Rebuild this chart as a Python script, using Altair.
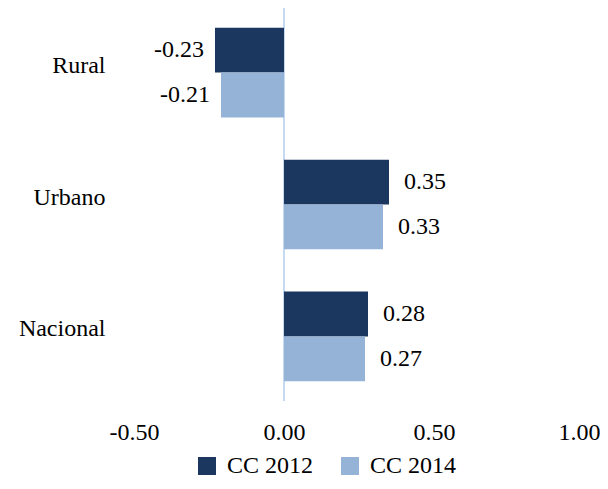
import altair as alt
import pandas as pd

categories = ["Rural", "Urbano", "Nacional"]
series = ["CC 2012", "CC 2014"]
cc2012 = [-0.23, 0.35, 0.28]
cc2014 = [-0.21, 0.33, 0.27]
x_ticks = [-0.5, 0.0, 0.5, 1.0]
colors = ["#1B375F", "#95B3D7"]

FONT = "'Liberation Serif', 'DejaVu Serif', serif"
FS = 24

rows = []
for c, a, b in zip(categories, cc2012, cc2014):
    rows.append({"cat": c, "serie": series[0], "val": a, "lbl": f"{a:.2f}"})
    rows.append({"cat": c, "serie": series[1], "val": b, "lbl": f"{b:.2f}"})
df = pd.DataFrame(rows)

xscale = alt.Scale(domain=[-0.5, 1.0], nice=False, zero=False)

base = alt.Chart(df).encode(
    y=alt.Y(
        "cat:N",
        sort=categories,
        scale=alt.Scale(paddingInner=0.32, paddingOuter=0.15),
        axis=alt.Axis(
            title=None, domain=False, ticks=False, labelFontSize=FS,
            labelFont=FONT, labelColor="black", labelPadding=29, labelOffset=-7,
        ),
    ),
    yOffset=alt.YOffset("serie:N", sort=series),
)

bars = base.mark_bar().encode(
    x=alt.X(
        "val:Q",
        scale=xscale,
        axis=alt.Axis(
            values=x_ticks, title=None, domain=False, ticks=False, grid=False,
            labelFontSize=FS, labelFont=FONT, labelColor="black", labelPadding=19,
            labelFlush=False,
            labelAlign={"condition": {"test": "datum.value == 1", "value": "right"}, "value": "center"},
            labelOffset={"condition": {"test": "datum.value == 1", "value": 16}, "value": 0},
            labelExpr="datum.value < 0 ? '-' + format(-datum.value, '.2f') : format(datum.value, '.2f')",
        ),
    ),
    color=alt.Color(
        "serie:N",
        scale=alt.Scale(domain=series, range=colors),
        legend=alt.Legend(
            title=None, orient="none", legendX=61, legendY=446,
            direction="horizontal", symbolType="square", symbolSize=324,
            symbolStrokeWidth=0, labelFontSize=FS, labelFont=FONT,
            labelColor="black", columnPadding=24, labelOffset=8,
        ),
    ),
)

text_pos = base.mark_text(align="left", baseline="middle", dx=15, font=FONT,
                          fontSize=FS, color="black").encode(
    x=alt.X("val:Q", scale=xscale), text="lbl:N"
).transform_filter("datum.val >= 0")

text_neg = base.mark_text(align="right", baseline="middle", dx=-11, font=FONT,
                          fontSize=FS, color="black").encode(
    x=alt.X("val:Q", scale=xscale), text="lbl:N"
).transform_filter("datum.val < 0")

zero_df = pd.DataFrame({"z": [0.0]})
rule = alt.Chart(zero_df).mark_rule(color="#C5D9F1", strokeWidth=2).encode(
    x=alt.X("z:Q", scale=xscale)
)

chart = alt.layer(rule, bars, text_pos, text_neg).properties(
    width=450,
    height=393,
    autosize=alt.AutoSizeParams(type="none"),
    padding={"left": 126, "top": 0, "right": 16, "bottom": 78},
).configure_view(stroke=None)

chart.save("out.html", embed_options={"renderer": "svg", "actions": False})
